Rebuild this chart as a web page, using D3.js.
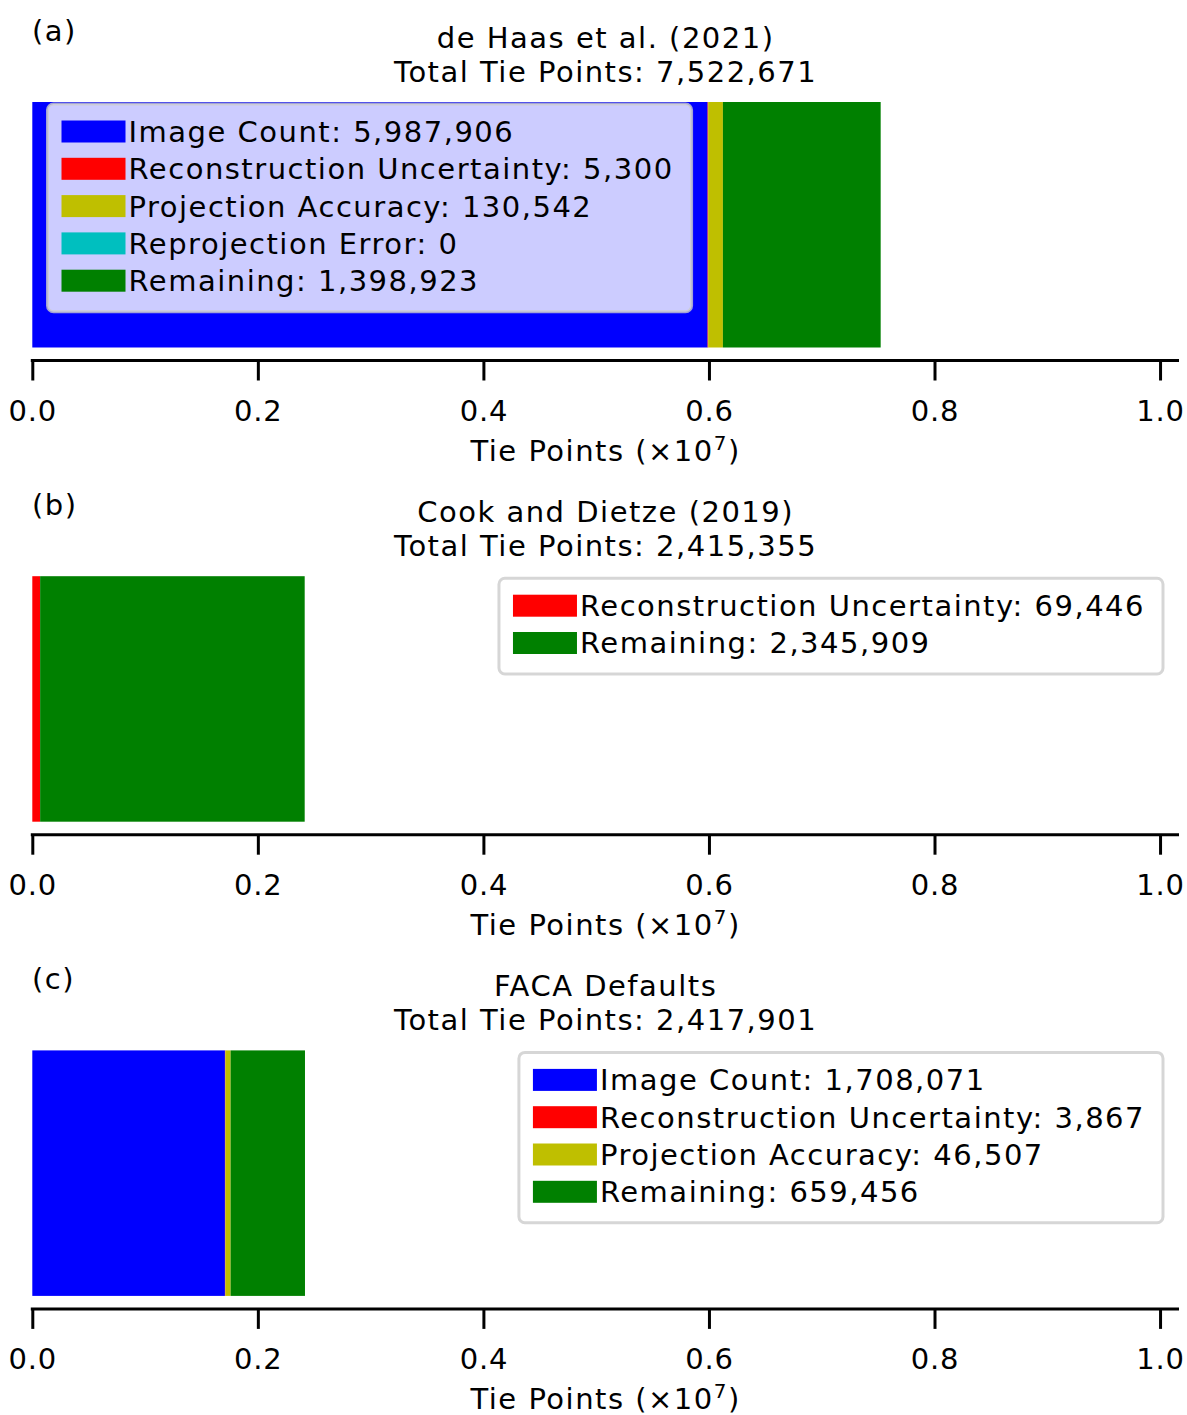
<!DOCTYPE html>
<html>
<head>
<meta charset="utf-8">
<script src="https://cdn.jsdelivr.net/npm/d3@7"></script>
<style>
  html, body { margin: 0; padding: 0; background: #ffffff; }
  svg { display: block; }
  text { font-family: "DejaVu Sans", sans-serif; fill: #000; letter-spacing: 1.5px; }
  .tick text { letter-spacing: 0.8px; }
</style>
</head>
<body>
<script>
// Filter stages, in stacking order
const categories = ["Image Count", "Reconstruction Uncertainty", "Projection Accuracy", "Reprojection Error", "Remaining"];
const categoryColors = ["#0000ff", "#ff0000", "#bfbf00", "#00bfbf", "#008000"];

// Panel descriptions
const panelLetters = ["(a)", "(b)", "(c)"];
const panelTitles = ["de Haas et al. (2021)", "Cook and Dietze (2019)", "FACA Defaults"];

// Tie points removed by each stage (null = stage not applied in that configuration)
const deHaasValues = [5987906, 5300, 130542, 0, 1398923];
const cookDietzeValues = [null, 69446, null, null, 2345909];
const facaValues = [1708071, 3867, 46507, null, 659456];

// Axis ticks (in units of 10^7 tie points)
const tickValues = [0.0, 0.2, 0.4, 0.6, 0.8, 1.0];

const panelValues = [deHaasValues, cookDietzeValues, facaValues];
const legendSide = ["left", "right", "right"];

const W = 1187, H = 1415;
const svg = d3.select("body").append("svg").attr("width", W).attr("height", H);

const FS = 29;
const fmt = d3.format(",");
const panelStep = 474.2;

const x = d3.scaleLinear().domain([0, 1.0168e7]).range([32.3, 1179]);

panelValues.forEach((vals, i) => {
  const g = svg.append("g").attr("transform", `translate(0,${i * panelStep})`);

  // stacked segments
  const segs = [];
  let acc = 0;
  vals.forEach((v, k) => {
    if (v === null) return;
    segs.push({ key: categories[k], color: categoryColors[k], x0: acc, x1: acc + v, v });
    acc += v;
  });
  const total = acc;

  const y = d3.scaleBand().domain([panelTitles[i]]).range([102, 347.5]).padding(0);

  g.selectAll("rect.seg").data(segs).join("rect")
    .attr("class", "seg")
    .attr("x", d => x(d.x0))
    .attr("width", d => Math.max(0, x(d.x1) - x(d.x0)))
    .attr("y", y(panelTitles[i]))
    .attr("height", y.bandwidth())
    .attr("fill", d => d.color);

  // x axis (spine offset below the bar)
  const axis = d3.axisBottom(x)
    .tickValues(tickValues.map(t => t * 1e7))
    .tickFormat(v => d3.format(".1f")(v / 1e7))
    .tickSizeInner(20).tickSizeOuter(0).tickPadding(20);
  const ax = g.append("g").attr("transform", "translate(0,360.5)").call(axis);
  ax.select(".domain").attr("stroke", "#000").attr("stroke-width", 3)
    .attr("d", `M${x.range()[0] - 1.5},0H${x.range()[1]}`);
  ax.selectAll(".tick line").attr("stroke", "#000").attr("stroke-width", 3);
  ax.selectAll(".tick text").attr("font-size", FS).attr("font-family", "DejaVu Sans").attr("fill", "#000");

  const cx = (x.range()[0] + x.range()[1]) / 2;

  // axis label
  const xl = g.append("text").attr("x", cx).attr("y", 461).attr("text-anchor", "middle").attr("font-size", FS);
  xl.append("tspan").text("Tie Points (\u00d710");
  xl.append("tspan").attr("font-size", 20).attr("dy", -11).text("7");
  xl.append("tspan").attr("dy", 11).text(")");

  // titles
  g.append("text").attr("x", cx).attr("y", 47.5).attr("text-anchor", "middle").attr("font-size", FS).text(panelTitles[i]);
  g.append("text").attr("x", cx).attr("y", 81.5).attr("text-anchor", "middle").attr("font-size", FS)
    .text("Total Tie Points: " + fmt(total));
  g.append("text").attr("x", 32).attr("y", 40.5).attr("font-size", FS).text(panelLetters[i]);

  // legend
  const lg = g.append("g");
  const rowH = 37.3;
  const padL = 14, handleW = 64, handleH = 22, gap = 3, padR = 18, padT = 27.5, padB = 31;
  const items = lg.append("g");
  const texts = [];
  segs.forEach((s, k) => {
    const t = items.append("text").attr("x", padL + handleW + gap).attr("y", padT + k * rowH)
      .attr("dy", "0.36em").attr("font-size", FS).text(`${s.key}: ${fmt(s.v)}`);
    texts.push(t.node().getComputedTextLength());
    items.append("rect").attr("x", padL).attr("y", padT + k * rowH - handleH / 2)
      .attr("width", handleW).attr("height", handleH).attr("fill", s.color);
  });
  const boxW = padL + handleW + gap + d3.max(texts) + padR;
  const boxH = padT + (segs.length - 1) * rowH + padB;
  lg.insert("rect", ":first-child")
    .attr("x", 0).attr("y", 0).attr("width", boxW).attr("height", boxH)
    .attr("rx", 6).attr("ry", 6)
    .attr("fill", "#ffffff").attr("fill-opacity", 0.8)
    .attr("stroke", "#cccccc").attr("stroke-opacity", 0.8).attr("stroke-width", 3);
  const lx = legendSide[i] === "left" ? 47.5 : 1163 - boxW;
  const ly = 104;
  lg.attr("transform", `translate(${lx},${ly})`);
});
</script>
</body>
</html>
